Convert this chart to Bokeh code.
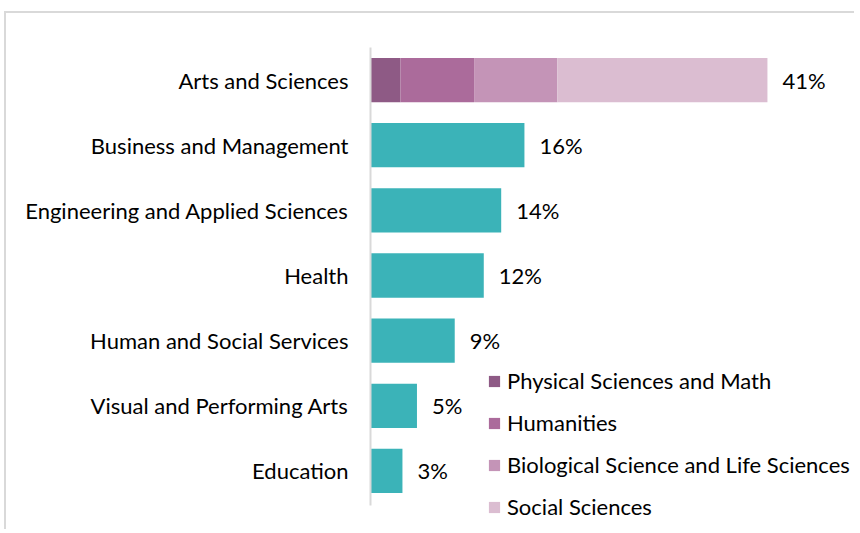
from bokeh.plotting import figure
from bokeh.models import ColumnDataSource, Range1d, Legend, LegendItem, FixedTicker
from bokeh.core.properties import value
from bokeh.embed import file_html
from bokeh.resources import INLINE

categories = ["Arts and Sciences", "Business and Management", "Engineering and Applied Sciences",
              "Health", "Human and Social Services", "Visual and Performing Arts", "Education"]
totals = [41.0, 15.9, 13.5, 11.7, 8.7, 4.8, 3.3]
labels = ["41%", "16%", "14%", "12%", "9%", "5%", "3%"]

arts_parts = ["Physical Sciences and Math", "Humanities", "Biological Science and Life Sciences", "Social Sciences"]
arts_values = [3.1, 7.6, 8.6, 21.7]
arts_colors = ["#8E5A85", "#AB6B9B", "#C494B7", "#DBBDD1"]

FONT = "Lato"
FS = "22px"
TEAL = "#3BB3B8"

n = len(categories)
ypos = [n - 1 - i for i in range(n)]  # first category on top

p = figure(width=850, height=518, output_backend="svg", toolbar_location=None,
           y_range=Range1d(-0.93, n - 0.5),
           x_range=Range1d(0, 50.2),
           min_border_left=364, min_border_top=34, min_border_bottom=0, min_border_right=0)
p.styles = {"border-left": "2px solid #D9D9D9", "border-top": "2px solid #D9D9D9",
            "margin-left": "4px", "margin-top": "11px"}

# teal bars (all but Arts)
other = ColumnDataSource(dict(y=ypos[1:], val=totals[1:]))
p.hbar(y="y", right="val", left=0, height=0.68, source=other, color=TEAL, line_color=None)

# stacked Arts bar
left = 0.0
renderers = []
for name, v, c in zip(arts_parts, arts_values, arts_colors):
    src = ColumnDataSource(dict(y=[ypos[0]], l=[left], r=[left + v]))
    r = p.hbar(y="y", left="l", right="r", height=0.68, source=src, color=c, line_color=None)
    renderers.append((name, r))
    left += v

# value labels
lab = ColumnDataSource(dict(y=ypos, val=totals, txt=labels))
p.text(x="val", y="y", text="txt", source=lab, x_offset=15, text_baseline="middle",
       text_font=value(FONT), text_font_size=FS, text_color="#000000")

legend = Legend(items=[LegendItem(label=nm, renderers=[r]) for nm, r in renderers],
                location=(117, 11), glyph_width=14, glyph_height=14, spacing=15,
                label_text_font=FONT, label_text_font_size=FS, label_text_color="#000000",
                label_standoff=6, background_fill_alpha=0, border_line_color=None,
                padding=0, margin=0)
p.add_layout(legend)

p.xaxis.visible = False
p.xgrid.visible = False
p.ygrid.visible = False
p.outline_line_color = None
p.yaxis.ticker = FixedTicker(ticks=ypos)
p.yaxis.major_label_overrides = {y: c for y, c in zip(ypos, categories)}
p.yaxis.bounds = (-0.53, n - 0.5)
p.yaxis.axis_line_color = "#D9D9D9"
p.yaxis.axis_line_width = 2
p.yaxis.major_tick_line_color = None
p.yaxis.minor_tick_line_color = None
p.yaxis.major_tick_out = 0
p.yaxis.major_label_standoff = 22
p.yaxis.major_label_text_font = FONT
p.yaxis.major_label_text_font_size = FS
p.yaxis.major_label_text_color = "#000000"

open("out.html", "w").write(file_html(p, INLINE))
